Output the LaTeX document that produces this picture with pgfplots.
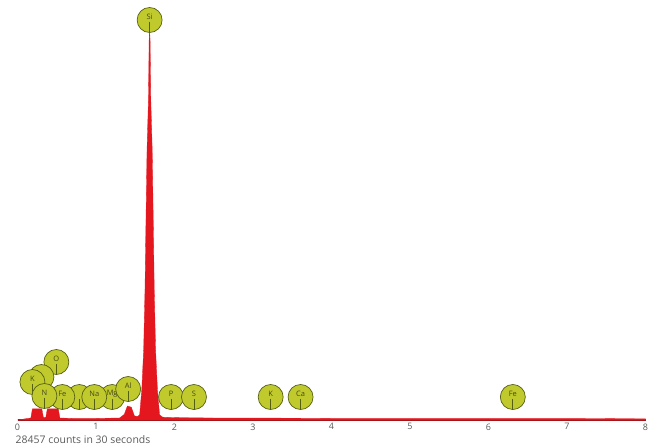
\documentclass[border=0pt]{standalone}
\usepackage{pgfplots}
\pgfplotsset{compat=1.18}
\usepackage{fontspec}
\setmainfont{Open Sans}

\definecolor{specred}{RGB}{228,22,30}
\definecolor{specline}{RGB}{150,20,25}
\definecolor{elemfill}{RGB}{192,202,44}
\definecolor{elemdraw}{RGB}{85,95,18}
\definecolor{elemtext}{RGB}{70,72,25}
\definecolor{ticktext}{RGB}{90,90,90}

% element marker: disc with a short stem from the centre down
\pgfdeclareplotmark{elem}{%
  \pgfpathcircle{\pgfpointorigin}{\pgfplotmarksize}%
  \pgfusepathqfillstroke
  \pgfpathmoveto{\pgfpoint{0pt}{-0.15\pgfplotmarksize}}%
  \pgfpathlineto{\pgfpoint{0pt}{-\pgfplotmarksize}}%
  \pgfusepathqstroke}

\begin{document}
\begin{tikzpicture}
\begin{axis}[
    scale only axis,
    width=628bp, height=420bp,
    xmin=0, xmax=8, ymin=0, ymax=105,
    axis x line=bottom, axis y line=none,
    x axis line style={-, draw=specline, line width=1.2bp},
    xtick={0,1,...,8},
    ytick=\empty,
    major tick length=0pt,
    /pgf/number format/assume math mode=true,
    xticklabel style={font=\fontsize{9}{10}\selectfont, text=ticktext, yshift=0bp},
    clip=false,
]
% spectrum (arbitrary counts scale)
\addplot[fill=specred, draw=specred, line width=0.3bp] coordinates {
    (0,0) (0.10,0.3) (0.17,0.5) (0.19,2.8) (0.31,2.8) (0.33,0.6)
    (0.36,0.6) (0.38,2.8) (0.52,2.8) (0.54,0.5) (0.70,0.4)
    (1.00,0.4) (1.30,0.5) (1.36,1.4) (1.40,3.5) (1.45,3.2)
    (1.49,1.0) (1.53,0.9) (1.556,1.3) (1.583,7.5) (1.607,17.5)
    (1.624,32.5) (1.636,49) (1.650,67.5) (1.668,80) (1.677,95)
    (1.683,97.5) (1.689,95) (1.698,80) (1.716,67.5) (1.730,49)
    (1.742,32.5) (1.759,17.5) (1.783,7.5) (1.81,1.3) (1.85,0.7)
    (2.0,0.6) (2.5,0.5) (3.0,0.5) (4.0,0.4) (5.0,0.4)
    (6.0,0.4) (7.0,0.4) (8.0,0.3)
} \closedcycle;

% element labels
\addplot[only marks, mark=elem, mark size=12.5bp,
    draw=elemdraw, fill=elemfill, line width=0.7bp,
    point meta=explicit symbolic,
    nodes near coords,
    every node near coord/.style={anchor=center, yshift=3bp,
        font=\fontsize{7.5}{8}\selectfont, text=elemtext}]
table[meta=label] {
x      y     label
0.495  14.5  O
0.305  10.75 {}
0.190  9.5   K
0.787  5.75  {}
0.571  5.75  Fe
0.343  6.0   N
1.206  5.75  Mg
0.978  5.75  Na
1.410  7.75  Al
1.956  5.75  P
2.248  5.75  S
3.225  5.75  K
3.606  5.75  Ca
6.310  5.75  Fe
1.683  100   Si
};

\node[anchor=base west, font=\fontsize{10.5}{11}\selectfont, text=ticktext,
      inner sep=0pt]
  at ([xshift=-2bp, yshift=-23bp]rel axis cs:0,0) {28457 counts in 30 seconds};
\end{axis}
\path ([shift={(-17.5bp,-26bp)}]current axis.south west)
  rectangle ([shift={(14.5bp,0bp)}]current axis.north east);
\end{tikzpicture}
\end{document}
